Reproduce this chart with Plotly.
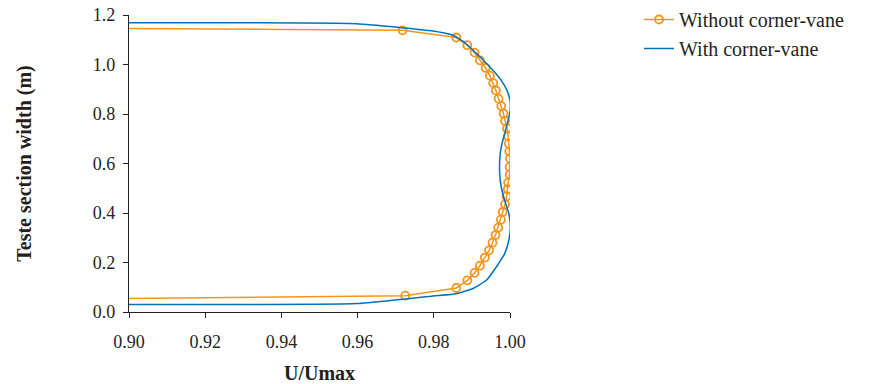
import plotly.graph_objects as go

# Without corner-vane (orange, markers + line); first/last points lie left of the axis range
without_x = [0.88, 0.9718, 0.9859, 0.9888, 0.9907, 0.9921, 0.9936, 0.9947, 0.9956, 0.9963, 0.9970,
             0.9977, 0.9983, 0.9987, 0.9992, 0.9995, 0.9997, 0.9998, 1.0000, 0.9999, 0.9999,
             0.9995, 0.9994, 0.9991, 0.9987, 0.9981, 0.9976, 0.9969, 0.9962, 0.9954, 0.9945,
             0.9934, 0.9921, 0.9907, 0.9888, 0.9859, 0.9725, 0.88]
without_y = [1.148, 1.138, 1.109, 1.078, 1.048, 1.017, 0.986, 0.955, 0.925, 0.895, 0.862,
             0.832, 0.802, 0.772, 0.742, 0.710, 0.680, 0.649, 0.620, 0.586, 0.556,
             0.523, 0.496, 0.467, 0.435, 0.404, 0.373, 0.341, 0.311, 0.280, 0.249,
             0.220, 0.187, 0.158, 0.128, 0.097, 0.066, 0.051]

# With corner-vane (blue line)
with_x = [0.88, 0.9597, 0.9798, 0.9850, 0.9880, 0.9903, 0.9925, 0.9947, 0.9965, 0.9977, 0.9992,
          1.0000, 1.0001, 0.9999, 0.9995, 0.9986, 0.9977, 0.9973, 0.9973, 0.9977, 0.9986,
          0.9997, 1.0001, 0.9997, 0.9986, 0.9964, 0.9938, 0.9903, 0.9859, 0.9798, 0.9597, 0.88]
with_y = [1.168, 1.165, 1.135, 1.118, 1.090, 1.057, 1.025, 0.990, 0.960, 0.936, 0.896,
          0.855, 0.828, 0.800, 0.775, 0.721, 0.667, 0.613, 0.559, 0.505, 0.451,
          0.398, 0.343, 0.290, 0.236, 0.182, 0.128, 0.095, 0.074, 0.065, 0.034, 0.031]

x_ticks = [0.90, 0.92, 0.94, 0.96, 0.98, 1.00]
x_tick_labels = ["0.90", "0.92", "0.94", "0.96", "0.98", "1.00"]
y_ticks = [0.0, 0.2, 0.4, 0.6, 0.8, 1.0, 1.2]
y_tick_labels = ["0.0", "0.2", "0.4", "0.6", "0.8", "1.0", "1.2"]

ORANGE = "#F7941D"
BLUE = "#0072BD"
FONT = "Liberation Serif, DejaVu Serif, serif"
TXT = "#231F20"

fig = go.Figure()
fig.add_trace(go.Scatter(
    x=without_x, y=without_y, name="Without corner-vane", mode="lines+markers",
    line=dict(color=ORANGE, width=1.5),
    marker=dict(symbol="circle-open", size=8, color=ORANGE, line=dict(width=1.8, color=ORANGE)),
))
fig.add_trace(go.Scatter(
    x=with_x, y=with_y, name="With corner-vane", mode="lines",
    line=dict(color=BLUE, width=1.5, shape="spline", smoothing=0.4),
))

fig.update_layout(
    width=870, height=384,
    margin=dict(l=129, r=360, t=15, b=72),
    paper_bgcolor="white", plot_bgcolor="white",
    font=dict(family=FONT, size=18, color=TXT),
    legend=dict(xref="container", yref="container", x=0.7345, y=1.02,
                xanchor="left", yanchor="top",
                font=dict(family=FONT, size=20, color=TXT),
                bgcolor="rgba(0,0,0,0)", tracegroupgap=0, itemwidth=30),
    showlegend=True,
)
fig.update_xaxes(
    range=[0.9, 1.0], tickvals=x_ticks, ticktext=x_tick_labels, automargin=False,
    showgrid=False, zeroline=False, showline=True, linecolor=TXT, linewidth=1.2,
    ticks="outside", ticklen=5, tickcolor=TXT, ticklabelstandoff=8,
    tickfont=dict(family=FONT, size=18, color=TXT),
    title=dict(text="<b>U/Umax</b>", font=dict(family=FONT, size=20, color=TXT), standoff=18),
)
fig.update_yaxes(
    range=[0.0, 1.2], tickvals=y_ticks, ticktext=y_tick_labels, automargin=False,
    showgrid=False, zeroline=False, showline=True, linecolor=TXT, linewidth=1.2,
    ticks="outside", ticklen=5, tickcolor=TXT, ticklabelstandoff=4,
    tickfont=dict(family=FONT, size=18, color=TXT),
    title=dict(text="<b>Teste section width (m)</b>", font=dict(family=FONT, size=20, color=TXT), standoff=55),
)

fig.write_html("out.html")
